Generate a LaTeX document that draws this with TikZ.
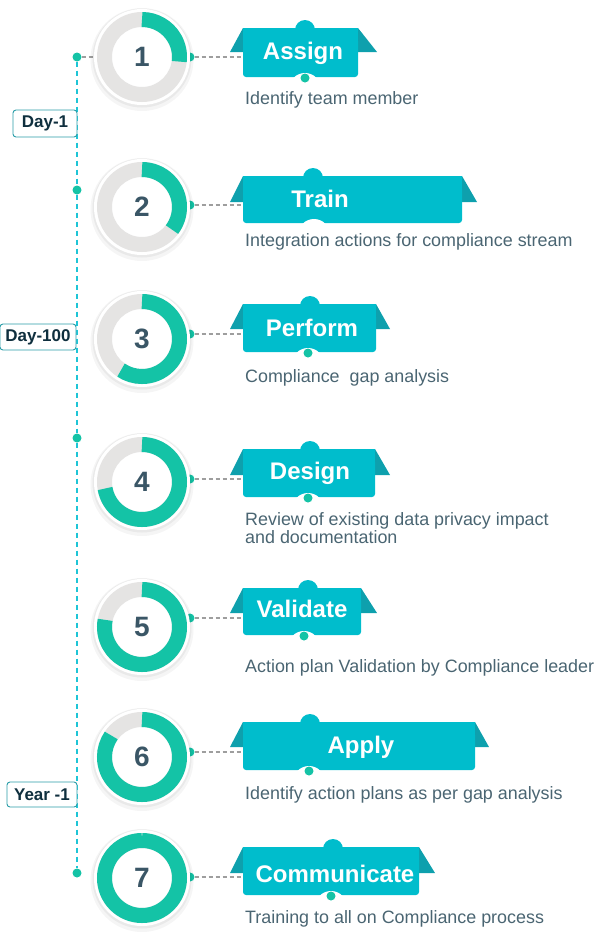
\documentclass[tikz,border=0pt]{standalone}
\usepackage{fontspec}
\setmainfont{Liberation Sans}
\definecolor{bannerc}{HTML}{00BDCC}
\definecolor{wingc}{HTML}{0EA0AD}
\definecolor{greenc}{HTML}{14C3A6}
\definecolor{ringgray}{HTML}{E5E4E3}
\definecolor{numc}{HTML}{3A5666}
\definecolor{descc}{HTML}{4A6572}
\definecolor{labc}{HTML}{0F2F3E}
\definecolor{labborder}{HTML}{2A9DA8}
\definecolor{vlinec}{HTML}{1EC5D6}
\definecolor{dashc}{HTML}{9E9E9E}
\newcommand\stepcircle[4]{%
  \fill[black,opacity=.04] (142,#1+2.5) circle (51.5);
  \fill[black,opacity=.05] (142,#1+1) circle (49.5);
  \fill[white] (142,#1) circle (48);
  \fill[ringgray, even odd rule] (142,#1) circle (45) (142,#1) circle (30);
  \draw[greenc, line width=15pt] (142,#1) ++(-90:37.5) arc[start angle=-90, delta angle=#2, radius=37.5];
  \node[numtext] (#4) at (142,#1) {#3};
}
\newcommand\stepbanner[7]{%
  \fill[wingc] (230,#4) -- (243,#2) -- (#1,#2) -- (#5,#4) -- cycle;
  \fill[bannerc] (243,#2) rectangle (#1,#3-6);
  \fill[bannerc, rounded corners=3pt] (243,#2+10) rectangle (#1,#3);
  \fill[bannerc] (#6,#2+2) circle (10);
  \fill[white] (#7,#3+12) circle (16);
}
\begin{document}
\begin{tikzpicture}[x=1pt,y=-1pt,
  ldot/.style={circle, fill=greenc, inner sep=0pt, minimum size=9pt},
  rdot/.style={circle, fill=greenc, inner sep=0pt, minimum size=9pt},
  bdot/.style={circle, fill=greenc, inner sep=0pt, minimum size=9pt},
  vline/.style={vlinec, line width=1.3pt, dash pattern=on 5pt off 4pt},
  graydash/.style={dashc, line width=1.1pt, dash pattern=on 4pt off 3pt},
  daylabel/.style={draw=labborder, line width=0.9pt, fill=white, rounded corners=3pt, text=labc, font=\fontsize{17}{18}\selectfont\bfseries, inner sep=0pt, align=center},
  numtext/.style={text=numc, font=\fontsize{28}{30}\selectfont\bfseries, inner sep=0pt},
  titletext/.style={text=white, font=\fontsize{24}{26}\selectfont\bfseries, inner sep=0pt},
  desctext/.style={text=descc, font=\fontsize{17.9}{20}\selectfont, inner sep=0pt}]
\useasboundingbox (0,0) rectangle (596,940);

% left timeline
\node[ldot] (d1) at (77,57) {};
\node[ldot] (d2) at (77,190) {};
\node[ldot] (d3) at (77,438) {};
\node[ldot] (d4) at (77,873) {};
\draw[vline] (d1) -- (d2);
\draw[vline] (d2) -- (d3);
\draw[vline] (d3) -- (d4);
\node[daylabel, minimum width=64pt, minimum height=27pt] (l1) at (45,123.5) {Day-1};
\node[daylabel, minimum width=76pt, minimum height=26pt] (l2) at (38,337) {Day-100};
\node[daylabel, minimum width=70pt, minimum height=25pt] (l3) at (42,794.5) {Year -1};
\coordinate (h1) at (96,57);
\draw[graydash] (d1) -- (h1);

% step 1
\node[rdot] (r1) at (190,57) {};
\coordinate (w1) at (243,57);
\draw[graydash] (r1) -- (w1);
\stepcircle{57}{97}{1}{c1}
\stepbanner{358}{28}{77}{52}{377}{305}{305}
\node[titletext, anchor=base] (t1) at (303,59) {Assign};
\node[bdot] (b1) at (305,78) {};
\node[desctext, anchor=base west] (s1) at (245,104) {Identify team member};

% step 2
\node[rdot] (r2) at (190,205) {};
\coordinate (w2) at (243,205);
\draw[graydash] (r2) -- (w2);
\stepcircle{207}{127}{2}{c2}
\stepbanner{462}{176}{223}{202}{477}{313}{314}
\node[titletext, anchor=base] (t2) at (320,207) {Train};
\node[desctext, anchor=base west] (s2) at (245,246) {Integration actions for compliance stream};

% step 3
\node[rdot] (r3) at (190,334) {};
\coordinate (w3) at (243,334);
\draw[graydash] (r3) -- (w3);
\stepcircle{339}{214}{3}{c3}
\stepbanner{376}{304}{352}{329}{390}{310}{308}
\node[titletext, anchor=base] (t3) at (312,336) {Perform};
\node[bdot] (b3) at (308,353) {};
\node[desctext, anchor=base west] (s3) at (245,382) {Compliance\ \ gap analysis};

% step 4
\node[rdot] (r4) at (190,479) {};
\coordinate (w4) at (243,479);
\draw[graydash] (r4) -- (w4);
\stepcircle{482}{260}{4}{c4}
\stepbanner{375}{449}{497}{475}{390}{310}{308}
\node[titletext, anchor=base] (t4) at (310,479) {Design};
\node[bdot] (b4) at (308,498) {};
\node[desctext, anchor=base west] (s4a) at (245,525) {Review of existing data privacy impact};
\node[desctext, anchor=base west] (s4b) at (245,543) {and documentation};

% step 5
\node[rdot] (r5) at (190,618) {};
\coordinate (w5) at (243,618);
\draw[graydash] (r5) -- (w5);
\stepcircle{627}{281}{5}{c5}
\stepbanner{361}{588}{635}{613}{377}{308}{304}
\node[titletext, anchor=base] (t5) at (302,617) {Validate};
\node[bdot] (b5) at (304,636) {};
\node[desctext, anchor=base west] (s5) at (245,672) {Action plan Validation by Compliance leader};

% step 6
\node[rdot] (r6) at (190,752) {};
\coordinate (w6) at (243,752);
\draw[graydash] (r6) -- (w6);
\stepcircle{757}{305}{6}{c6}
\stepbanner{475}{722}{770}{747}{489}{310}{309}
\node[titletext, anchor=base] (t6) at (361,753) {Apply};
\node[bdot] (b6) at (309,771) {};
\node[desctext, anchor=base west] (s6) at (245,799) {Identify action plans as per gap analysis};

% step 7
\node[rdot] (r7) at (190,877) {};
\coordinate (w7) at (243,877);
\draw[graydash] (r7) -- (w7);
\stepcircle{878}{360}{7}{c7}
\stepbanner{419}{847}{895}{873}{435}{333}{331}
\node[titletext, anchor=base] (t7) at (335,882) {Communicate};
\node[bdot] (b7) at (331,896) {};
\node[desctext, anchor=base west] (s7) at (245,923) {Training to all on Compliance process};
\end{tikzpicture}
\end{document}
